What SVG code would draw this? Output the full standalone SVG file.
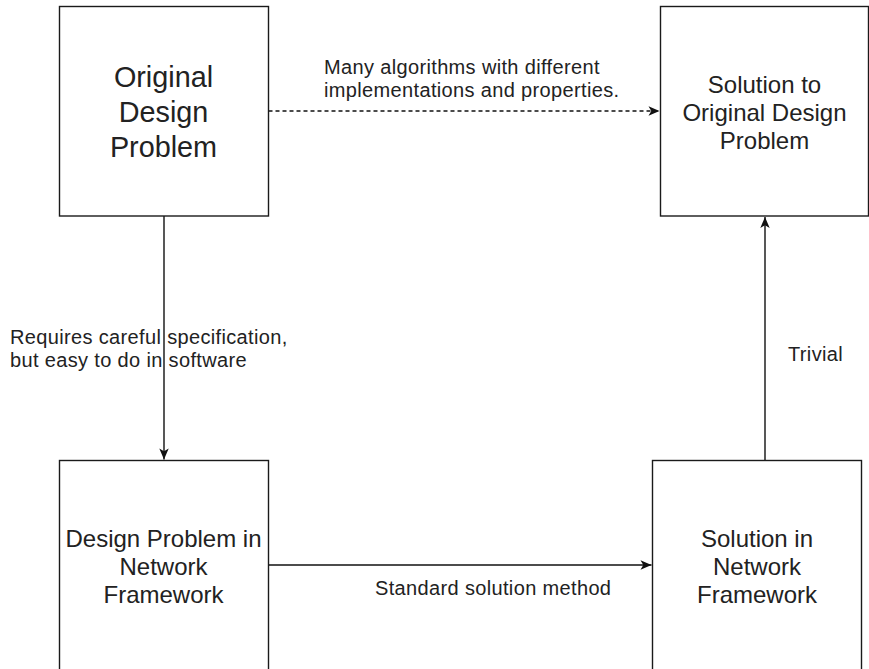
<svg xmlns="http://www.w3.org/2000/svg" width="869" height="669" viewBox="0 0 869 669">
  <style>
    .box { fill: #ffffff; stroke: #1a1a1a; stroke-width: 1.4; }
    .big { font-family: "Liberation Sans", Arial, sans-serif; font-size: 28.8px; fill: #222222; text-anchor: middle; }
    .node { font-family: "Liberation Sans", Arial, sans-serif; font-size: 24px; fill: #222222; text-anchor: middle; }
    .label { font-family: "Liberation Sans", Arial, sans-serif; font-size: 20px; letter-spacing: 0.35px; fill: #222222; }
    .edge { fill: none; stroke: #111111; stroke-width: 1.4; }
    .dashed { stroke-dasharray: 4 3; }
  </style>
  <defs>
    <!-- classic notched arrowhead, tip at the path end -->
    <marker id="arrow" markerUnits="userSpaceOnUse" markerWidth="13" markerHeight="11" viewBox="0 0 13 11" refX="12" refY="5.5" orient="auto">
      <path d="M1,0.8 L12,5.5 L1,10.2 L3.8,5.5 Z" fill="#111111"/>
    </marker>
  </defs>

  <rect width="869" height="669" fill="#ffffff"/>

  <g id="connectors">
    <path class="edge dashed" d="M268.5,111 L659.5,111" marker-end="url(#arrow)"/>
    <path class="edge" d="M164,216 L164,459.5" marker-end="url(#arrow)"/>
    <path class="edge" d="M268.5,565 L651.5,565" marker-end="url(#arrow)"/>
    <path class="edge" d="M765,460.5 L765,217" marker-end="url(#arrow)"/>
    <text class="label" x="324" y="73.7">Many algorithms with different</text>
    <text class="label" x="324" y="97">implementations and properties.</text>
    <text class="label" x="10" y="344">Requires careful specification,</text>
    <text class="label" x="10" y="367">but easy to do in software</text>
    <text class="label" x="375" y="595">Standard solution method</text>
    <text class="label" x="788" y="361">Trivial</text>
  </g>

  <g id="original-problem">
    <rect class="box" x="59.5" y="6.5" width="209" height="209.5"/>
    <text class="big" x="163.5" y="87">Original</text>
    <text class="big" x="163.5" y="122">Design</text>
    <text class="big" x="163.5" y="157">Problem</text>
  </g>

  <g id="original-solution">
    <rect class="box" x="660.5" y="6.5" width="208" height="209.5"/>
    <text class="node" x="764.5" y="92.7">Solution to</text>
    <text class="node" x="764.5" y="121">Original Design</text>
    <text class="node" x="764.5" y="149.3">Problem</text>
  </g>

  <g id="network-problem">
    <rect class="box" x="59.5" y="460.5" width="209" height="212"/>
    <text class="node" x="163.5" y="546.5">Design Problem in</text>
    <text class="node" x="163.5" y="574.5">Network</text>
    <text class="node" x="163.5" y="602.5">Framework</text>
  </g>

  <g id="network-solution">
    <rect class="box" x="652.5" y="460.5" width="209" height="212"/>
    <text class="node" x="757" y="546.5">Solution in</text>
    <text class="node" x="757" y="574.5">Network</text>
    <text class="node" x="757" y="602.5">Framework</text>
  </g>
</svg>
